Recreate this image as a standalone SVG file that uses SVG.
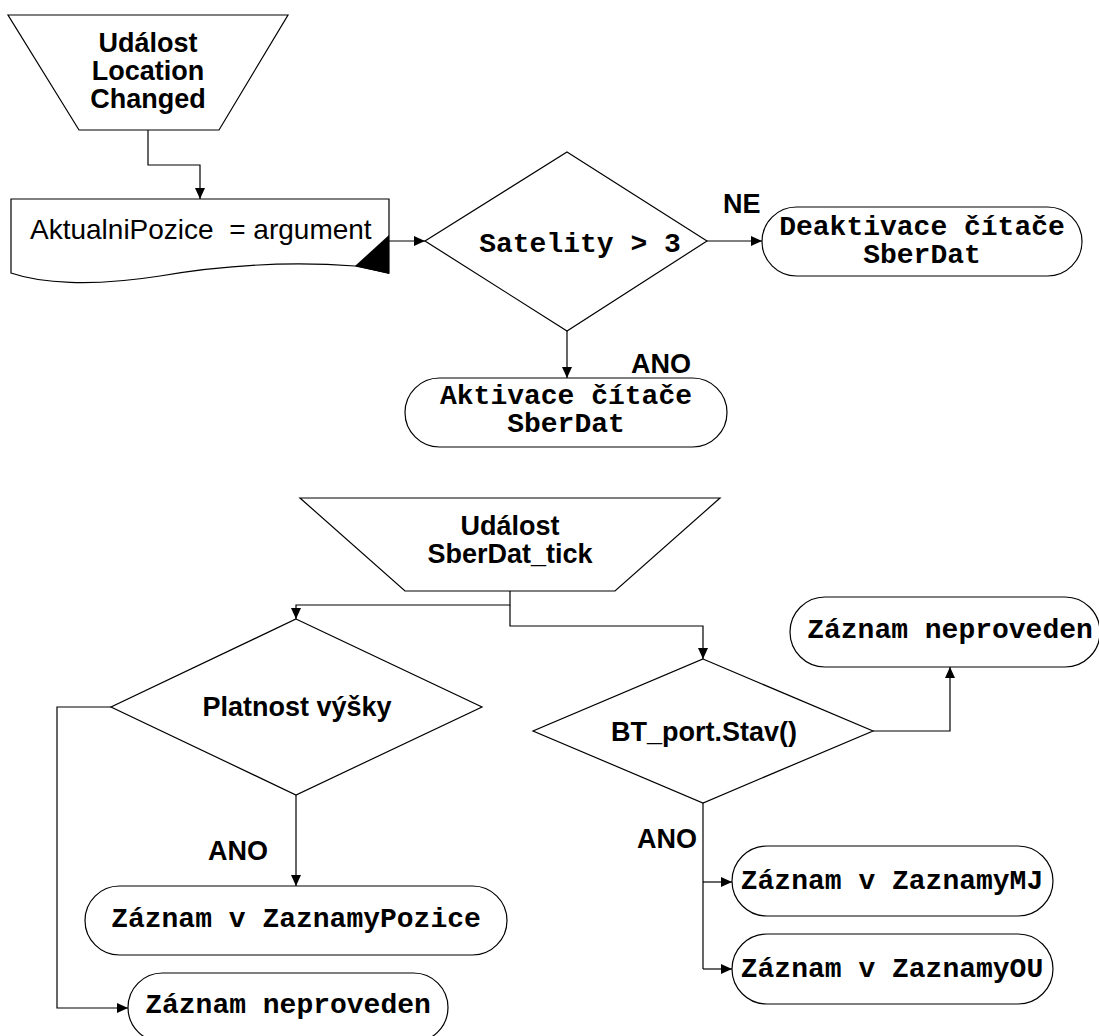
<svg xmlns="http://www.w3.org/2000/svg" width="1099" height="1036" viewBox="0 0 1099 1036">
  <defs>
    <marker id="arrow" markerUnits="userSpaceOnUse" markerWidth="12" markerHeight="10" refX="11" refY="5" orient="auto">
      <path d="M0,0 L11,5 L0,10 Z" fill="#000"/>
    </marker>
    <style>
      .shape { fill: #fff; stroke: #000; stroke-width: 1.2; }
      .conn { fill: none; stroke: #000; stroke-width: 1.2; }
      .conn.arr { marker-end: url(#arrow); }
      .sans { font-family: "Liberation Sans", Arial, sans-serif; font-size: 27px; fill: #000; }
      .bold { font-weight: bold; }
      .mono { font-family: "Liberation Mono", "Courier New", monospace; font-size: 28px; font-weight: bold; fill: #000; }
      .mid { text-anchor: middle; }
    </style>
  </defs>

  <!-- event: location changed -->
  <g id="event-location">
    <polygon class="shape" points="8,15 288,15 219,130 79,130"/>
    <text class="sans bold mid" x="148" y="52">Událost</text>
    <text class="sans bold mid" x="148" y="80">Location</text>
    <text class="sans bold mid" x="148" y="108">Changed</text>
  </g>

  <!-- assignment (document shape) -->
  <g id="assign-position">
    <path class="shape" d="M11,199 H389 V273 L355,266 C300,262 230,264 160,276 C90,287 40,283 11,273 Z"/>
    <polygon points="389,235 389,274 355,266" fill="#000"/>
    <text class="sans" x="30" y="239" style="font-size:28px" xml:space="preserve">AktualniPozice  = argument</text>
  </g>

  <!-- decision: satellites -->
  <g id="dec-satellites">
    <polygon class="shape" points="567,152 707,241 567,331 425,241"/>
    <text class="mono mid" x="580" y="252">Satelity &gt; 3</text>
  </g>

  <g id="deactivate-timer">
    <rect class="shape" x="762" y="207" width="320" height="69" rx="34.5"/>
    <text class="mono mid" x="922" y="235">Deaktivace čítače</text>
    <text class="mono mid" x="922" y="263">SberDat</text>
  </g>

  <g id="activate-timer">
    <rect class="shape" x="405" y="378" width="322" height="69" rx="34.5"/>
    <text class="mono mid" x="566" y="404">Aktivace čítače</text>
    <text class="mono mid" x="566" y="432">SberDat</text>
  </g>

  <!-- event: timer tick -->
  <g id="event-tick">
    <polygon class="shape" points="300,498 720,498 615,591 405,591"/>
    <text class="sans bold mid" x="510" y="535">Událost</text>
    <text class="sans bold mid" x="510" y="563">SberDat_tick</text>
  </g>

  <g id="dec-altitude">
    <polygon class="shape" points="296,619 482,707 296,795 111,707"/>
    <text class="sans bold mid" x="297" y="716">Platnost výšky</text>
  </g>

  <g id="rec-position">
    <rect class="shape" x="85" y="886" width="422" height="69" rx="34.5"/>
    <text class="mono mid" x="296" y="927">Záznam v ZaznamyPozice</text>
  </g>

  <g id="rec-skipped-1">
    <rect class="shape" x="128" y="973" width="320" height="69" rx="34.5"/>
    <text class="mono mid" x="288" y="1013">Záznam neproveden</text>
  </g>

  <g id="dec-bt">
    <polygon class="shape" points="703,659 873,731 703,803 533,731"/>
    <text class="sans bold mid" x="704" y="741">BT_port.Stav()</text>
  </g>

  <g id="rec-skipped-2">
    <rect class="shape" x="790" y="597" width="310" height="70" rx="35"/>
    <text class="mono mid" x="950" y="638">Záznam neproveden</text>
  </g>

  <g id="rec-mj">
    <rect class="shape" x="732" y="846" width="321" height="70" rx="35"/>
    <text class="mono mid" x="892" y="889">Záznam v ZaznamyMJ</text>
  </g>

  <g id="rec-ou">
    <rect class="shape" x="732" y="934" width="321" height="70" rx="35"/>
    <text class="mono mid" x="892" y="977">Záznam v ZaznamyOU</text>
  </g>

  <!-- connectors -->
  <g id="connectors">
    <polyline class="conn arr" points="148,130 148,165 200,165 200,199"/>
    <polyline class="conn arr" points="389,241 425,241"/>
    <polyline class="conn arr" points="707,241 762,241"/>
    <polyline class="conn arr" points="567,331 567,378"/>
    <polyline class="conn arr" points="510,591 510,605 296,605 296,619"/>
    <polyline class="conn arr" points="510,605 510,626 703,626 703,659"/>
    <polyline class="conn arr" points="111,707 57,707 57,1008 128,1008"/>
    <polyline class="conn arr" points="296,795 296,886"/>
    <polyline class="conn arr" points="873,731 950,731 950,667"/>
    <polyline class="conn" points="703,803 703,969"/>
    <polyline class="conn arr" points="703,882 732,882"/>
    <polyline class="conn arr" points="703,969 732,969"/>
  </g>

  <!-- branch labels -->
  <g id="labels">
    <text class="sans bold" x="723" y="213">NE</text>
    <text class="sans bold" x="631" y="373">ANO</text>
    <text class="sans bold" x="208" y="860">ANO</text>
    <text class="sans bold" x="637" y="848">ANO</text>
  </g>
</svg>
